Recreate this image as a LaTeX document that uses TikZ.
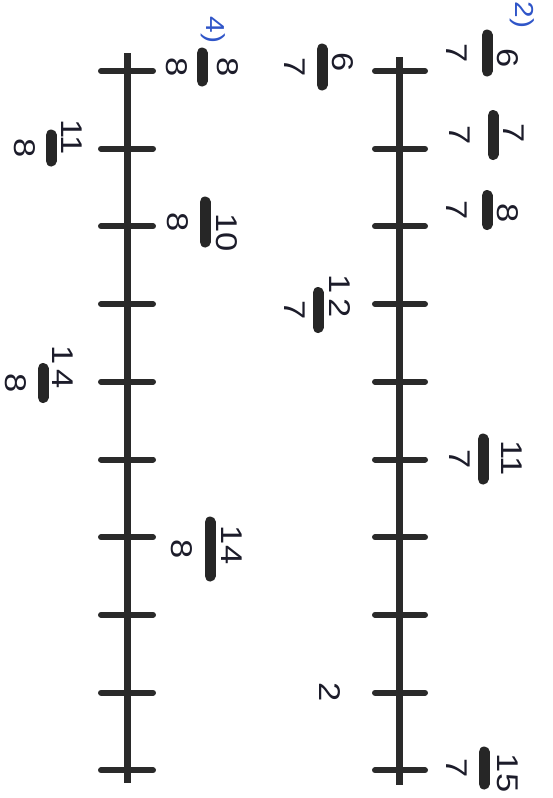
\documentclass[tikz,border=0pt]{standalone}
\usepackage{fontspec}
\setmainfont{Liberation Sans}[FakeStretch=1.15]
\definecolor{axgray}{HTML}{2A2A2A}
\definecolor{barblack}{HTML}{262626}
\definecolor{txt}{HTML}{1C1C2A}
\definecolor{partblue}{HTML}{2F55C8}
\newcommand\myfrac[9]{%
  \coordinate (#1a) at (#2,#3-#4);
  \coordinate (#1b) at (#2,#3+#4);
  \draw[barline] (#1a) -- (#1b);
  \node[digit] (#1n) at (#6,#7) {#5};
  \node[digit] (#1d) at (#9,#3) {#8};}
\begin{document}
\begin{tikzpicture}[x=1pt,y=-1pt,
  axisline/.style={line width=7pt, draw=axgray},
  tickline/.style={line width=6pt, draw=axgray, line cap=round},
  barline/.style={line width=11pt, draw=barblack, line cap=round},
  digit/.style={rotate=-90, inner sep=0pt, text=txt, font=\fontsize{30}{30}\selectfont},
  partlabel/.style={rotate=-90, inner sep=0pt, text=partblue, font=\fontsize{26}{26}\selectfont}]
\useasboundingbox (0,0) rectangle (553,798);
% right number line
\coordinate (Rtop) at (399,57);
\coordinate (Rbot) at (399,785);
\draw[axisline] (Rtop) -- (Rbot);
\foreach \i in {0,...,9}{
  \coordinate (Rl\i) at (375,71+77.7*\i);
  \coordinate (Rr\i) at (425,71+77.7*\i);
  \draw[tickline] (Rl\i) -- (Rr\i);
}
% left number line
\coordinate (Ltop) at (127,53);
\coordinate (Lbot) at (127,783);
\draw[axisline] (Ltop) -- (Lbot);
\foreach \i in {0,...,9}{
  \coordinate (Ll\i) at (101,71+77.7*\i);
  \coordinate (Lr\i) at (153,71+77.7*\i);
  \draw[tickline] (Ll\i) -- (Lr\i);
}
% part labels
\node[partlabel] (p2) at (522,15) {2)};
\node[partlabel] (p4) at (213,30) {4)};
% right line, right side
\myfrac{ra}{487}{53}{18}{6}{508}{58}{7}{457}
\myfrac{rb}{493}{135}{19.5}{7}{514}{133}{7}{460}
\myfrac{rc}{487}{210}{14.5}{8}{508}{213}{7}{457}
\myfrac{rd}{483}{459}{20}{11}{512}{458}{7}{460}
\myfrac{re}{484}{768}{16}{15}{508}{773}{7}{457}
% right line, left side
\myfrac{rf}{322}{67}{18}{6}{343}{62}{7}{295}
\myfrac{rg}{318}{310}{17.5}{1\,2}{340}{296}{7}{295}
\node[digit] (two) at (330,692) {2};
% left line, right side
\myfrac{la}{202}{67}{14}{8}{228}{67}{8}{177}
\myfrac{lb}{205}{222}{20}{10}{227}{233}{8}{178}
\myfrac{lc}{210}{549}{27}{14}{232}{545}{8}{182}
% left line, left side
\myfrac{ld}{51}{148}{13}{11}{72}{137}{8}{25}
\myfrac{le}{43}{383}{14.5}{1\,4}{63}{367}{8}{16}
\end{tikzpicture}
\end{document}
